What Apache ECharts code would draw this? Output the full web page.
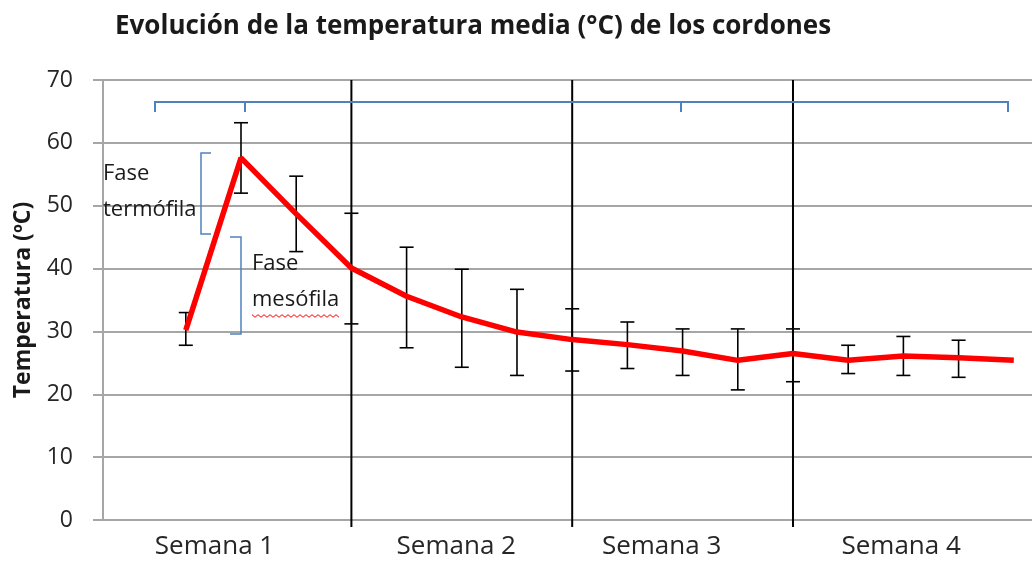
<!DOCTYPE html>
<html>
<head>
<meta charset="utf-8">
<script src="https://cdn.jsdelivr.net/npm/echarts@6/dist/echarts.min.js"></script>
<style>
html,body{margin:0;padding:0;background:#fff;}
#chart{width:1032px;height:564px;}
</style>
</head>
<body>
<div id="chart"></div>
<script>
// ---- data ----
const sampleIndex = [0,1,2,3,4,5,6,7,8,9,10,11,12,13,14,15];
const meanTemp   = [30.2, 57.6, 48.7, 40.1, 35.6, 32.3, 29.9, 28.7, 27.9, 26.9, 25.4, 26.5, 25.4, 26.1, 25.8, 25.4];
const errHigh    = [33.0, 63.2, 54.7, 48.8, 43.4, 39.9, 36.7, 33.6, 31.5, 30.4, 30.4, 30.4, 27.8, 29.2, 28.6, null];
const errLow     = [27.8, 52.0, 42.7, 31.2, 27.4, 24.3, 23.0, 23.7, 24.1, 23.0, 20.7, 22.0, 23.3, 23.0, 22.7, null];
const weekLabels = ['Semana 1', 'Semana 2', 'Semana 3', 'Semana 4'];
const weekBoundaries = [3, 7, 11];
const yTicks = [0, 10, 20, 30, 40, 50, 60, 70];

// ---- layout (not data) ----
const weekLabelAt = [0.52, 4.9, 8.62, 12.96];
const FONT = '"Open Sans", "Noto Sans", sans-serif';

const chart = echarts.init(document.getElementById('chart'));

const lineData = sampleIndex.map((x, i) => [x, meanTemp[i]]);
const errData = sampleIndex
  .map((x, i) => [x, errLow[i], errHigh[i]])
  .filter(d => d[1] != null && d[2] != null);
const sepData = weekBoundaries.map(x => [x]);

function zigzag(x0, x1, y, step, amp) {
  const pts = [];
  let k = 0;
  for (let x = x0; x <= x1; x += step) { pts.push([x, y + (k % 2 ? amp : -amp)]); k++; }
  return pts;
}

const blue = '#4f81bd';
const option = {
  backgroundColor: '#ffffff',
  animation: false,
  title: {
    text: 'Evolución de la temperatura media (°C) de los cordones',
    left: 110, top: 9,
    textStyle: { fontFamily: FONT, fontWeight: 'bold', fontSize: 26, color: '#1a1a1a' }
  },
  grid: { left: 103, right: 0, top: 80, bottom: 44, containLabel: false, outerBoundsMode: 'none' },
  xAxis: {
    type: 'value',
    min: -1.5, max: 15.33,
    splitLine: { show: false },
    axisLine: { show: true, onZero: false, lineStyle: { color: '#a6a6a6', width: 2 } },
    axisTick: { show: false },
    axisLabel: {
      show: true,
      customValues: weekLabelAt,
      formatter: (v) => {
        const j = weekLabelAt.findIndex(p => Math.abs(p - v) < 1e-6);
        return j >= 0 ? weekLabels[j] : '';
      },
      margin: 14,
      fontFamily: FONT, fontSize: 26, color: '#262626'
    }
  },
  yAxis: {
    type: 'value',
    min: 0, max: 70, interval: 10,
    name: 'Temperatura (ºC)',
    nameLocation: 'middle',
    nameGap: 68,
    nameRotate: 90,
    nameTextStyle: { fontFamily: FONT, fontWeight: 'bold', fontSize: 23, color: '#1a1a1a' },
    axisLine: { show: true, onZero: false, lineStyle: { color: '#a6a6a6', width: 2 } },
    axisTick: { show: true, length: 10, lineStyle: { color: '#a6a6a6', width: 2 } },
    axisLabel: {
      fontFamily: FONT, fontSize: 23, color: '#262626', margin: 30,
      formatter: v => (yTicks.indexOf(v) >= 0 ? String(v) : '')
    },
    splitLine: { show: true, lineStyle: { color: '#a6a6a6', width: 2 } }
  },
  series: [
    {
      type: 'custom',
      name: 'separadores',
      clip: false,
      z: 3,
      data: sepData,
      renderItem: (params, api) => {
        const top = api.coord([api.value(0), 70]);
        const bot = api.coord([api.value(0), 0]);
        return {
          type: 'line',
          shape: { x1: top[0], y1: top[1], x2: bot[0], y2: bot[1] + 7 },
          style: { stroke: '#000', lineWidth: 2 }
        };
      }
    },
    {
      type: 'custom',
      name: 'error',
      z: 4,
      data: errData,
      renderItem: (params, api) => {
        const x = api.value(0);
        const lo = api.coord([x, api.value(1)]);
        const hi = api.coord([x, api.value(2)]);
        const w = 7;
        const st = { stroke: '#000', lineWidth: 1.6 };
        return {
          type: 'group',
          children: [
            { type: 'line', shape: { x1: lo[0], y1: lo[1], x2: hi[0], y2: hi[1] }, style: st },
            { type: 'line', shape: { x1: hi[0] - w, y1: hi[1], x2: hi[0] + w, y2: hi[1] }, style: st },
            { type: 'line', shape: { x1: lo[0] - w, y1: lo[1], x2: lo[0] + w, y2: lo[1] }, style: st }
          ]
        };
      }
    },
    {
      type: 'line',
      name: 'Temperatura media',
      z: 5,
      data: lineData,
      showSymbol: false,
      symbol: 'none',
      smooth: false,
      lineStyle: { color: '#ff0000', width: 5.5 }
    }
  ],
  graphic: [
    { type: 'polyline', shape: { points: [[155,112],[155,102],[1008,102],[1008,112]] }, style: { stroke: blue, lineWidth: 2, fill: null }, z: 10 },
    { type: 'line', shape: { x1: 245, y1: 102, x2: 245, y2: 112 }, style: { stroke: blue, lineWidth: 2 }, z: 10 },
    { type: 'line', shape: { x1: 681, y1: 102, x2: 681, y2: 112 }, style: { stroke: blue, lineWidth: 2 }, z: 10 },
    { type: 'polyline', shape: { points: [[211,153],[201,153],[201,234],[211,234]] }, style: { stroke: blue, lineWidth: 1.5, fill: null }, z: 10 },
    { type: 'polyline', shape: { points: [[230,237],[241,237],[241,334],[230,334]] }, style: { stroke: blue, lineWidth: 1.5, fill: null }, z: 10 },
    { type: 'text', left: 103, top: 163, style: { text: 'Fase', font: '22px ' + FONT, fill: '#1a1a1a' }, z: 10 },
    { type: 'text', left: 103, top: 199, style: { text: 'termófila', font: '22px ' + FONT, fill: '#1a1a1a' }, z: 10 },
    { type: 'text', left: 252, top: 253, style: { text: 'Fase', font: '22px ' + FONT, fill: '#1a1a1a' }, z: 10 },
    { type: 'text', left: 252, top: 289, style: { text: 'mesófila', font: '22px ' + FONT, fill: '#1a1a1a' }, z: 10 },
    { type: 'polyline', shape: { points: zigzag(252, 340, 316, 3, 1.3) }, style: { stroke: '#ff0000', lineWidth: 1, fill: null }, z: 10 }
  ]
};
chart.setOption(option);
</script>
</body>
</html>
